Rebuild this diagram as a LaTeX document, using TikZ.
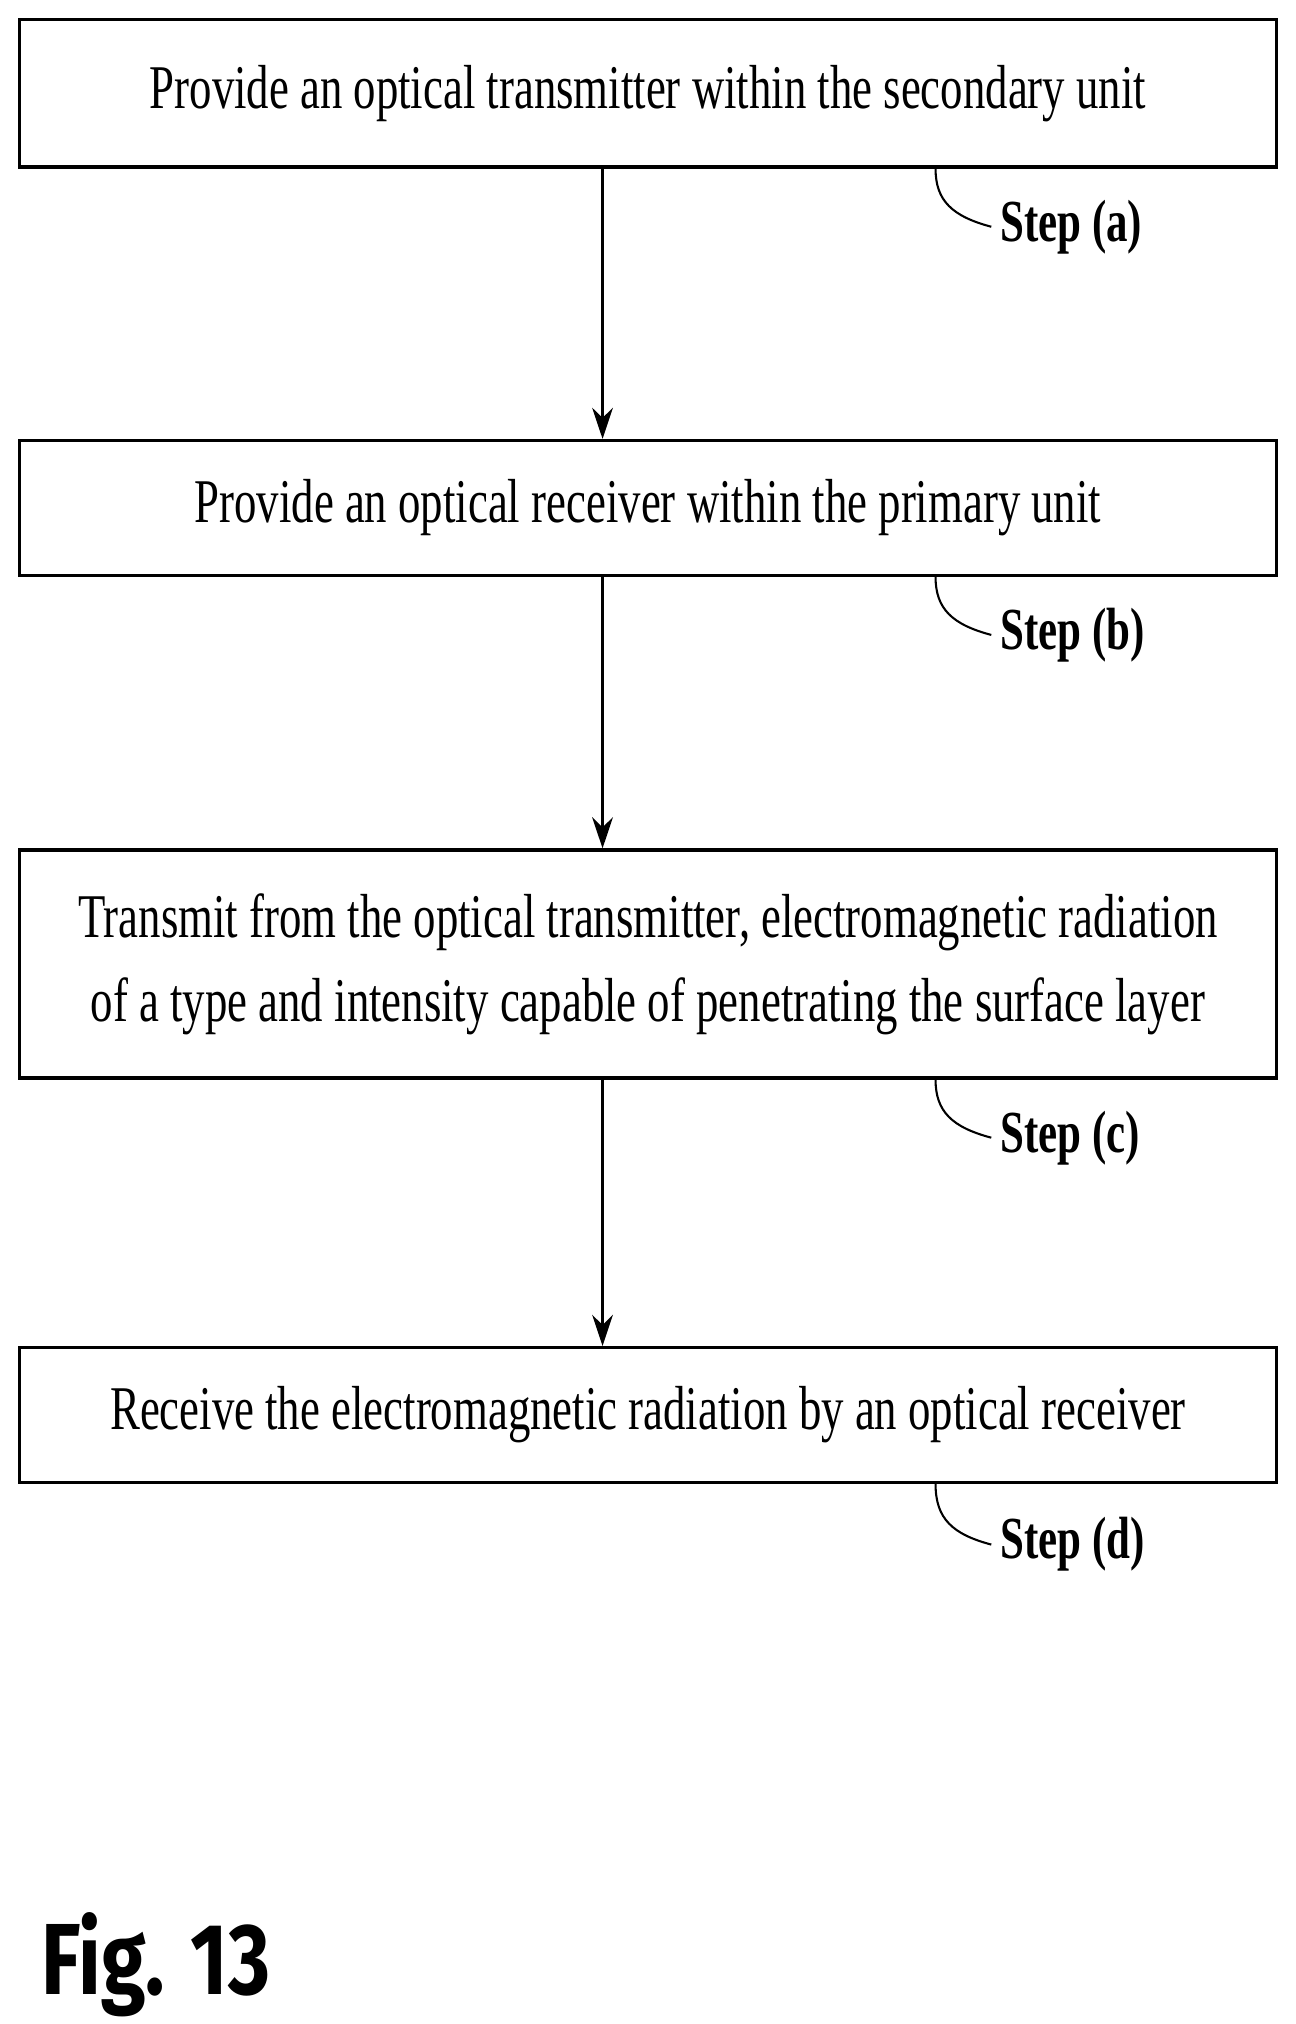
\documentclass[tikz,border=0pt]{standalone}
\usepackage{fontspec}
\setmainfont{Liberation Serif}[FakeStretch=0.72]
\newfontfamily\figfont{Fira Sans}[FakeStretch=0.8]
\usetikzlibrary{arrows.meta}
\begin{document}
\begin{tikzpicture}[x=0.5pt,y=-0.5pt,
  stepbox/.style={draw,line width=1.3pt,minimum width=485pt,inner sep=0pt,align=center,font=\fontsize{24}{32.5}\selectfont},
  flow/.style={line width=1pt,-{Stealth[length=12pt,width=8pt]}},
  hook/.style={line width=0.8pt},
  steplabel/.style={anchor=west,font=\bfseries\fontsize{23}{26}\selectfont}]
\useasboundingbox (0,0) rectangle (1000,1562);
\node[stepbox,minimum height=57pt] (a) at (500,72) {Provide an optical transmitter within the secondary unit};
\node[stepbox,minimum height=52pt] (b) at (500,392) {Provide an optical receiver within the primary unit};
\node[stepbox,minimum height=88pt] (c) at (500,744) {Transmit from the optical transmitter, electromagnetic radiation\\of a type and intensity capable of penetrating the surface layer};
\node[stepbox,minimum height=52pt] (d) at (500,1092) {Receive the electromagnetic radiation by an optical receiver};
\draw[flow] (a.south -| 465,0) -- (b.north -| 465,0);
\draw[flow] (b.south -| 465,0) -- (c.north -| 465,0);
\draw[flow] (c.south -| 465,0) -- (d.north -| 465,0);
\foreach \n/\l/\y in {a/a/175,b/b/490,c/c/878,d/d/1192}{
  \node[steplabel] (s\n) at (765,\y) {Step (\l)};
  \draw[hook] (\n.south -| 722,0) .. controls (722,\y-20) and (735,\y-8) .. (s\n.west);
}
\node[anchor=west,font=\figfont\bfseries\fontsize{39}{44}\selectfont] (fig) at (25,1516) {Fig. 13};
\end{tikzpicture}
\end{document}
